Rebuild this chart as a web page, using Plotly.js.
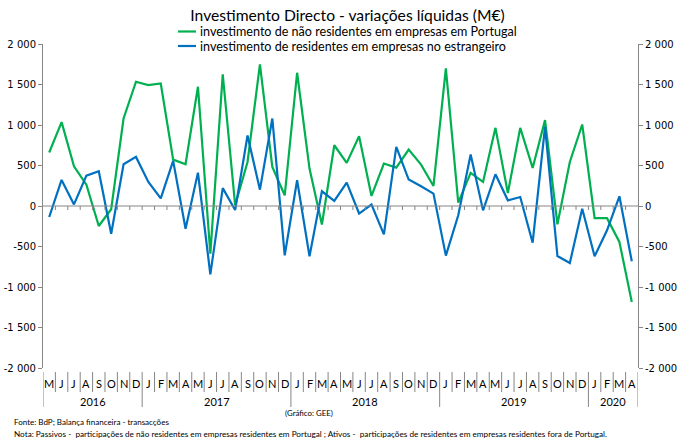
<!DOCTYPE html>
<html><head><meta charset="utf-8">
<script src="https://cdn.plot.ly/plotly-3.0.1.min.js"></script>
<style>html,body{margin:0;padding:0;background:#fff}#chart{width:681px;height:445px}</style>
</head><body><div id="chart"></div>
<script>
const months = ["M","J","J","A","S","O","N","D",
  "J","F","M","A","M","J","J","A","S","O","N","D",
  "J","F","M","A","M","J","J","A","S","O","N","D",
  "J","F","M","A","M","J","J","A","S","O","N","D",
  "J","F","M","A"];
const years = ["2016","2017","2018","2019","2020"];
const yearCounts = [8,12,12,12,4];
const nonResidents = [660,1035,490,264,-247,-40,1080,1534,
  1493,1513,573,515,1472,-588,1625,10,544,1748,482,132,
  1645,462,-228,750,532,862,124,524,474,697,511,247,
  1700,41,408,297,965,161,965,470,1060,-226,544,1006,
  -150,-150,-444,-1185];
const residentsAbroad = [-136,322,20,375,429,-342,515,606,
  297,95,557,-280,412,-844,221,-50,870,202,1080,-609,
  318,-621,181,62,289,-93,18,-350,730,326,243,153,
  -613,-115,635,-54,392,70,111,-453,977,-617,-704,-33,
  -621,-300,120,-683];
const seriesNames = ["investimento de não residentes em empresas em Portugal",
  "investimento de residentes em empresas no estrangeiro"];
const yTicks = [2000,1500,1000,500,0,-500,-1000,-1500,-2000];
const yTickText = ["2 000","1 500","1 000","500","0","-500","-1 000","-1 500","-2 000"];
const titleText = "Investimento Directo - variações líquidas (M€)";
const sourceText = "Fonte: BdP; Balança financeira - transacções";
const creditText = "(Gráfico: GEE)";
const noteText = "Nota: Passivos -  participações de não residentes em empresas residentes em Portugal ; Ativos -  participações de residentes em empresas residentes fora de Portugal.";

const GREEN = "#00B050", BLUE = "#0070C0", AX = "#868686";
const FAM = "Lato, 'Open Sans', sans-serif";
const NUMFAM = "'DejaVu Sans', Verdana, sans-serif";

const cv = document.createElement("canvas").getContext("2d");
function fit(text, target, base) {
  cv.font = base + "px Lato";
  const w = cv.measureText(text).width;
  return w > 0 ? base * target / w : base;
}

const xs = months.map((_, i) => i);
const n = months.length;
const PL = 43, PW = 595, PT = 44, PH = 324;
const px2x = p => (p - PL) / PW;
const py2y = p => (PT + PH - p) / PH;

const traces = [
  {x: xs, y: nonResidents, type: "scatter", mode: "lines", name: seriesNames[0],
   line: {color: GREEN, width: 2.2}, showlegend: false, hoverinfo: "y"},
  {x: xs, y: residentsAbroad, type: "scatter", mode: "lines", name: seriesNames[1],
   line: {color: BLUE, width: 2.2}, showlegend: false, hoverinfo: "y"},
  {x: [0], y: [0], yaxis: "y2", type: "scatter", mode: "markers",
   marker: {opacity: 0}, showlegend: false, hoverinfo: "skip"}
];

const shapes = [];
const annotations = [];
shapes.push({type: "line", xref: "x", yref: "y", x0: -0.5, x1: n - 0.5, y0: 0, y1: 0,
  line: {color: AX, width: 1}});
for (let i = 0; i < n - 1; i++) {
  shapes.push({type: "line", xref: "x", yref: "paper", x0: i + 0.5, x1: i + 0.5,
    y0: 0.5, y1: 0.5 - 4/PH, line: {color: AX, width: 1}});
}
const yb = new Set([0]);
let acc = 0;
yearCounts.forEach(c => { acc += c; yb.add(acc); });
for (let i = 0; i <= n; i++) {
  const isYear = yb.has(i);
  shapes.push({type: "line", xref: "x", yref: "paper", x0: i - 0.5, x1: i - 0.5,
    y0: py2y(372), y1: isYear ? py2y(407) : py2y(392), line: {color: AX, width: 1}});
}
// left axis line extension down to year separators handled by the year separator at -0.5
months.forEach((m, i) => annotations.push({x: i, y: py2y(383), xref: "x", yref: "paper",
  text: m, showarrow: false, font: {family: FAM, size: 11, color: "#000"},
  xanchor: "center", yanchor: "middle"}));
acc = 0;
years.forEach((yr, k) => {
  const c = (acc - 0.5 + acc + yearCounts[k] - 0.5) / 2;
  acc += yearCounts[k];
  annotations.push({x: c, y: py2y(401), xref: "x", yref: "paper", text: yr, showarrow: false,
    font: {family: FAM, size: 11, color: "#000"}, xanchor: "center", yanchor: "middle"});
});
const legFont = fit(seriesNames[0], 317, 14);
const legY = [py2y(31.5), py2y(46)];
[GREEN, BLUE].forEach((col, k) => {
  shapes.push({type: "line", xref: "paper", yref: "paper",
    x0: px2x(178), x1: px2x(196), y0: legY[k], y1: legY[k], line: {color: col, width: 2.2}});
  annotations.push({x: px2x(198), y: legY[k], xref: "paper", yref: "paper", text: seriesNames[k],
    showarrow: false, xanchor: "left", yanchor: "middle",
    font: {family: FAM, size: legFont, color: "#000"}});
});
annotations.push({x: px2x(12), y: py2y(422), xref: "paper", yref: "paper",
  text: sourceText, showarrow: false, xanchor: "left", yanchor: "middle",
  font: {family: FAM, size: fit(sourceText, 155, 9), color: "#000"}});
annotations.push({x: px2x(309), y: py2y(413), xref: "paper", yref: "paper",
  text: creditText, showarrow: false, xanchor: "center", yanchor: "middle",
  font: {family: FAM, size: fit(creditText, 48, 9), color: "#000"}});
annotations.push({x: px2x(12), y: py2y(434), xref: "paper", yref: "paper",
  text: noteText, showarrow: false, xanchor: "left", yanchor: "middle",
  font: {family: FAM, size: fit(noteText, 594, 9), color: "#000"}});

const yax = {range: [-2000, 2000], tickvals: yTicks, ticktext: yTickText, showgrid: false,
  zeroline: false, showline: true, linecolor: AX, linewidth: 1, ticks: "outside", ticklen: 4,
  tickcolor: AX, tickfont: {family: NUMFAM, size: 10, color: "#000"}, fixedrange: true};

const layout = {
  width: 681, height: 445,
  margin: {l: PL, r: 681 - PL - PW, t: PT, b: 445 - PT - PH},
  paper_bgcolor: "#fff", plot_bgcolor: "#fff",
  showlegend: false,
  title: {text: titleText, x: 347.5/681, xanchor: "center",
    y: 1 - 16/445, yanchor: "middle", font: {family: FAM, size: fit(titleText, 315, 17), color: "#000"}},
  xaxis: {range: [-0.5, n - 0.5], showticklabels: false, showgrid: false, zeroline: false,
    showline: false, ticks: "", fixedrange: true},
  yaxis: Object.assign({}, yax),
  yaxis2: Object.assign({}, yax, {overlaying: "y", side: "right"}),
  shapes: shapes, annotations: annotations
};
Plotly.newPlot("chart", traces, layout, {displayModeBar: false, staticPlot: true});
</script></body></html>
